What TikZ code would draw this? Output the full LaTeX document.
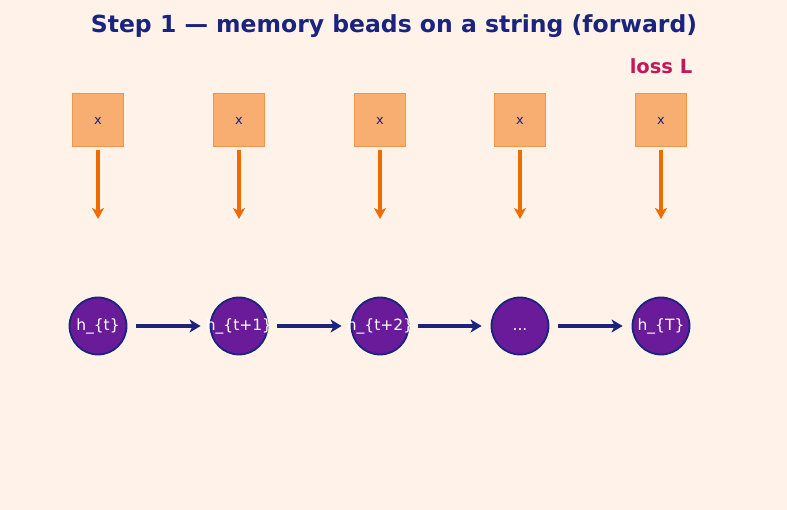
\documentclass[tikz,border=0pt]{standalone}
\usepackage{fontspec}
\setmainfont{DejaVu Sans}
\usetikzlibrary{arrows.meta,positioning}
\definecolor{BeadNavy}{RGB}{26,35,126}
\definecolor{BeadPurple}{RGB}{106,27,154}
\definecolor{BeadOrange}{RGB}{239,108,0}
\definecolor{BeadPeach}{RGB}{248,174,112}
\definecolor{BeadPeachEdge}{RGB}{242,150,70}
\definecolor{BeadCrimson}{RGB}{194,24,91}
\definecolor{BeadPaper}{RGB}{255,242,232}
\newcommand{\beadtext}[1]{\makebox[0pt]{#1}}
\tikzset{
  bead/input/.style={
    draw=BeadPeachEdge,
    line width=1.2pt,
    fill=BeadPeach,
    text=BeadNavy,
    minimum width=51pt,
    minimum height=53pt,
    inner sep=0pt,
    text height=10pt,
    text depth=1pt,
    font=\fontsize{13}{15}\selectfont
  },
  bead/state/.style={
    circle,
    draw=BeadNavy,
    line width=1.8pt,
    fill=BeadPurple,
    text=white,
    minimum size=57pt,
    inner sep=0pt,
    text height=12pt,
    text depth=2pt,
    font=\fontsize{15.5}{18}\selectfont
  },
  bead/feed/.style={-{Stealth[length=11pt,width=12pt,inset=3pt]}, line width=3.2pt, draw=BeadOrange, shorten <=3pt},
  bead/link/.style={-{Stealth[length=11pt,width=13pt,inset=3pt]}, line width=3.2pt, draw=BeadNavy, shorten <=9pt, shorten >=9pt},
  bead/title/.style={font=\bfseries\fontsize{23.5}{28}\selectfont, text=BeadNavy},
  bead/loss/.style={font=\bfseries\fontsize{19.5}{23}\selectfont, text=BeadCrimson}
}
\begin{document}
\begin{tikzpicture}[x=1pt,y=-1pt]
  \fill[BeadPaper] (0,0) rectangle (787,510);
  \useasboundingbox (0,0) rectangle (787,510);
  \node[bead/title] (title) at (394,26) {Step 1 — memory beads on a string (forward)};
  \node[bead/loss] (loss) at (661,66) {loss L};
  % inputs
  \node[bead/input] (x1) at (98,120) {x};
  \node[bead/input] (x2) at (239,120) {x};
  \node[bead/input] (x3) at (380,120) {x};
  \node[bead/input] (x4) at (520,120) {x};
  \node[bead/input] (x5) at (661,120) {x};
  \coordinate (f1) at (98,219);
  \coordinate (f2) at (239,219);
  \coordinate (f3) at (380,219);
  \coordinate (f4) at (520,219);
  \coordinate (f5) at (661,219);
  \draw[bead/feed] (x1) -- (f1);
  \draw[bead/feed] (x2) -- (f2);
  \draw[bead/feed] (x3) -- (f3);
  \draw[bead/feed] (x4) -- (f4);
  \draw[bead/feed] (x5) -- (f5);
  % hidden states
  \node[bead/state] (h1) at (98,326) {\beadtext{h\_\{t\}}};
  \node[bead/state] (h2) at (239,326) {\beadtext{h\_\{t+1\}}};
  \node[bead/state] (h3) at (380,326) {\beadtext{h\_\{t+2\}}};
  \node[bead/state] (h4) at (520,326) {\beadtext{...}};
  \node[bead/state] (h5) at (661,326) {\beadtext{h\_\{T\}}};
  \draw[bead/link] (h1) -- (h2);
  \draw[bead/link] (h2) -- (h3);
  \draw[bead/link] (h3) -- (h4);
  \draw[bead/link] (h4) -- (h5);
\end{tikzpicture}
\end{document}
